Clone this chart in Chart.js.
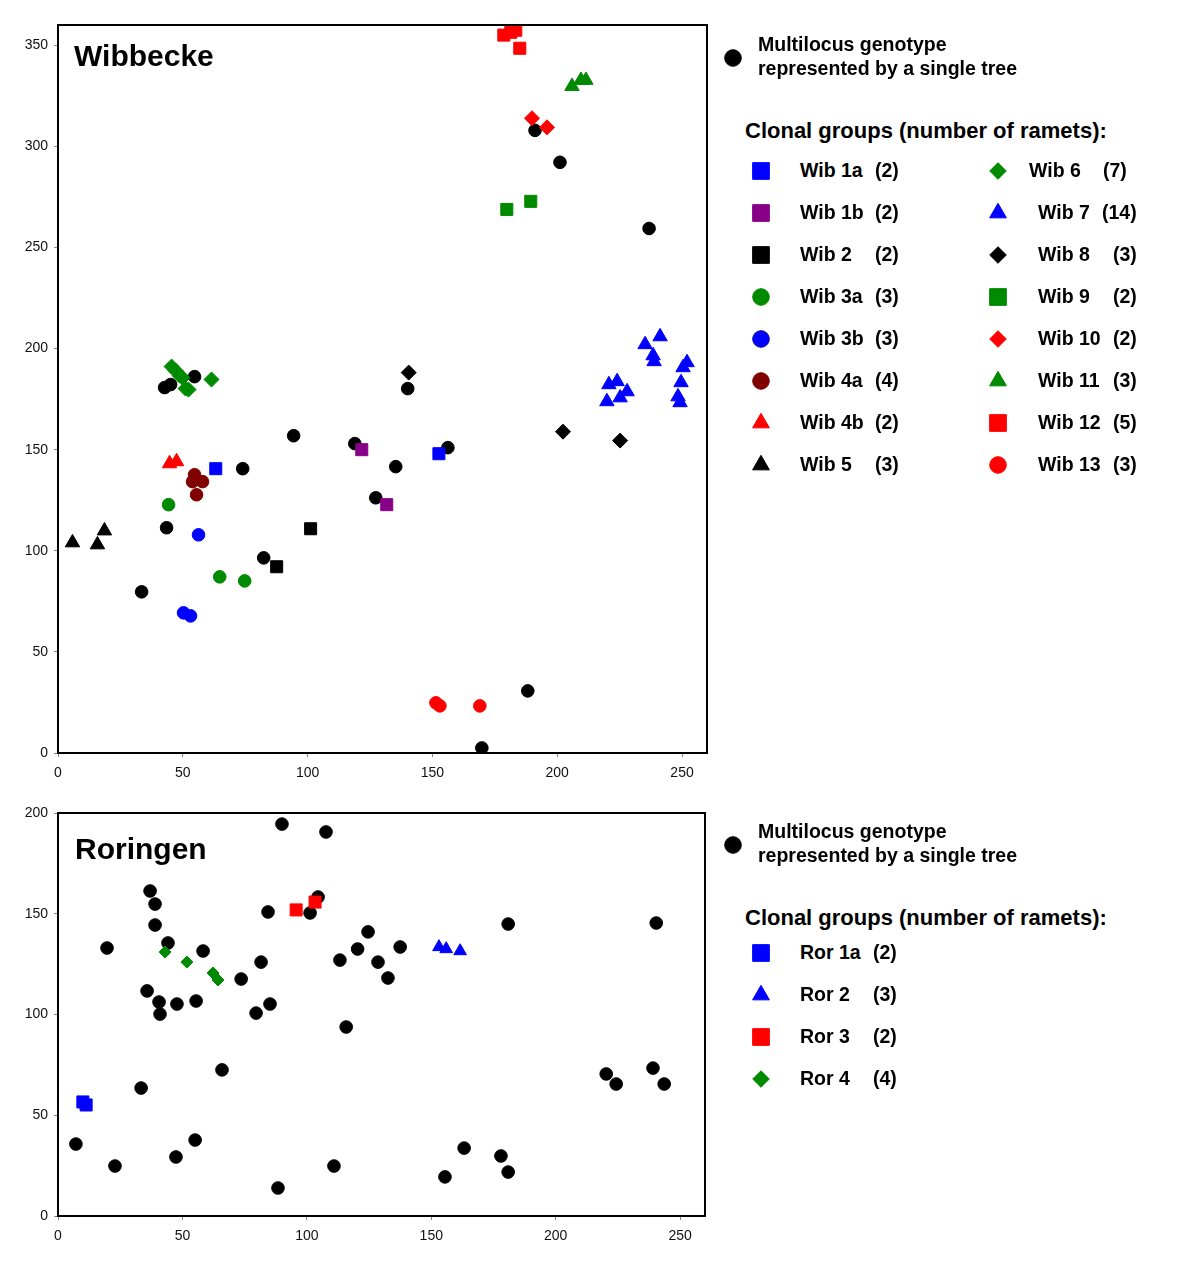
<!DOCTYPE html>
<html>
<head>
<meta charset="utf-8">
<script src="https://cdn.jsdelivr.net/npm/chart.js@4.4.1/dist/chart.umd.min.js"></script>
<style>
  body { margin: 0; background: #fff; }
  #page { position: relative; width: 1200px; height: 1275px; font-family: 'Liberation Sans', Arial, sans-serif; }
  canvas.plot { position: absolute; left: 0; }
  .txt { position: absolute; font-weight: bold; white-space: nowrap; line-height: 1; color: #000; }
  .mk { position: absolute; }
</style>
</head>
<body>
<div id="page">
  <canvas id="wibChart" class="plot" style="top:0px" width="720" height="790"></canvas>
  <canvas id="rorChart" class="plot" style="top:790px" width="720" height="460"></canvas>
</div>
<script>
// ---- Wibbecke (x, y positions in m) ----
const wibSingles = [[42.7,180.7],[45.1,182.2],[54.7,186.1],[94.4,156.9],[74.0,140.6],[118.9,153.0],
  [127.3,126.2],[135.3,141.6],[156.2,151.0],[140.1,180.2],[43.5,111.4],[82.4,96.5],[33.5,79.7],
  [188.2,30.7],[169.8,2.5],[191.1,307.9],[201.1,292.1],[236.8,259.4]];
const wib1a = [[63.2,140.6],[152.6,148.0]];
const wib1b = [[121.7,150.0],[131.7,122.8]];
const wib2 = [[101.2,110.9],[87.6,92.1]];
const wib3a = [[44.3,122.8],[64.8,87.1],[74.8,85.1]];
const wib3b = [[56.3,107.9],[50.3,69.3],[53.1,67.8]];
const wib4a = [[54.7,137.6],[53.9,134.2],[57.9,134.2],[55.5,127.7]];
const wib4b = [[44.7,143.1],[47.5,144.1]];
const wib5 = [[5.8,104.0],[15.8,103.0],[18.6,109.9]];
const wib6 = [[45.5,191.1],[47.1,189.1],[48.7,186.6],[49.9,185.6],[51.1,180.2],[52.3,179.7],[61.5,184.7]];
const wib7 = [[235.2,202.0],[241.2,205.9],[238.4,196.5],[238.8,193.6],[252.0,193.1],[250.4,190.6],
  [249.6,183.2],[248.4,176.2],[249.2,173.3],[220.7,182.2],[224.0,183.7],[228.0,178.7],[225.2,175.7],[219.9,173.8]];
const wib8 = [[140.5,188.1],[202.3,158.9],[225.2,154.5]];
const wib9 = [[179.8,268.8],[189.4,272.8]];
const wib10 = [[189.9,313.9],[195.9,309.4]];
const wib11 = [[205.9,329.7],[209.5,332.7],[211.5,332.7]];
const wib12 = [[178.6,355.0],[181.4,356.4],[183.4,357.4],[185.0,348.5],[182.2,359.4]];
const wib13 = [[151.4,24.8],[153.0,23.3],[169.0,23.3]];
const wibGroups = [wib1a, wib1b, wib2, wib3a, wib3b, wib4a, wib4b, wib5,
  wib6, wib7, wib8, wib9, wib10, wib11, wib12, wib13];
const wibNames = ['Wib 1a','Wib 1b','Wib 2','Wib 3a','Wib 3b','Wib 4a','Wib 4b','Wib 5',
  'Wib 6','Wib 7','Wib 8','Wib 9','Wib 10','Wib 11','Wib 12','Wib 13'];
const wibRamets = [2,2,2,3,3,4,2,3,7,14,3,2,2,3,5,3];
const wibYTicks = [0,50,100,150,200,250,300,350];

// ---- Roringen ----
const rorSingles = [[90,194.5],[107.7,190.6],[37,161.3],[39,154.8],[39,144.4],[19.7,133],[44.2,135.5],
  [58.3,131.5],[84.4,150.9],[101.3,150.4],[104.5,158.3],[81.6,126],[73.6,117.6],[35.8,111.7],[40.6,106.2],
  [47.8,105.2],[55.5,106.7],[41,100.2],[79.6,100.7],[85.2,105.2],[113.3,127],[115.8,93.8],[120.4,132.5],
  [65.9,72.5],[33.4,63.5],[7.2,35.7],[22.9,24.8],[47.4,29.3],[55.1,37.7],[88.4,13.9],[110.9,24.8],
  [124.6,141],[128.6,126],[132.6,118.1],[137.5,133.5],[180.9,144.9],[240.4,145.4],[220.3,70.5],
  [224.3,65.5],[239.1,73.4],[243.6,65.5],[163.2,33.7],[178,29.8],[180.9,21.8],[155.5,19.4]];
const ror1a = [[10.0,56.6],[11.3,55.1]];
const ror2 = [[153.1,133.5],[156.0,132.5],[161.6,131.5]];
const ror3 = [[95.7,151.9],[103.3,155.8]];
const ror4 = [[43.0,131.0],[51.8,126.0],[62.3,120.6],[64.3,117.1]];
const rorGroups = [ror1a, ror2, ror3, ror4];
const rorNames = ['Ror 1a','Ror 2','Ror 3','Ror 4'];
const rorRamets = [2,3,2,4];
const rorYTicks = [0,50,100,150,200];

const xTicks = [0,50,100,150,200,250];

// marker styles
const wibStyles = [
  ['rect','#0000ff'],['rect','#880088'],['rect','#000000'],['circle','#008a00'],
  ['circle','#0000ff'],['circle','#800000'],['triangle','#ff0000'],['triangle','#000000'],
  ['rectRot','#008a00'],['triangle','#0000ff'],['rectRot','#000000'],['rect','#008a00'],
  ['rectRot','#ff0000'],['triangle','#008a00'],['rect','#ff0000'],['circle','#ff0000']
];
const rorStyles = [['rect','#0000ff'],['triangle','#0000ff'],['rect','#ff0000'],['rectRot','#008a00']];

const plotRadius = {circle: 6.3, rect: 8.5, rectRot: 7.5, triangle: 8.3};
const plotRadiusSmall = {circle: 6.3, rect: 8.5, rectRot: 6, triangle: 7.3};
const legendRadius = {circle: 8.3, rect: 11.8, rectRot: 8.3, triangle: 9.7};
const FONT = "'Liberation Sans', Arial, sans-serif";

function toXY(arr) { return arr.map(p => ({x: p[0], y: p[1]})); }

function buildDatasets(groups, names, styles, singles, radii) {
  const ds = groups.map((g, i) => ({
    label: names[i],
    data: toXY(g),
    pointStyle: styles[i][0],
    pointRadius: radii[styles[i][0]],
    pointHoverRadius: radii[styles[i][0]],
    backgroundColor: styles[i][1],
    borderColor: styles[i][1],
    borderWidth: 1
  }));
  ds.push({
    label: 'Multilocus genotype',
    data: toXY(singles),
    pointStyle: 'circle',
    pointRadius: radii.circle,
    pointHoverRadius: radii.circle,
    backgroundColor: '#000',
    borderColor: '#000',
    borderWidth: 1
  });
  return ds;
}

const boxPlugin = {
  id: 'box',
  afterDraw(chart) {
    const a = chart.chartArea, ctx = chart.ctx;
    ctx.save();
    ctx.strokeStyle = '#000';
    ctx.lineWidth = 2;
    ctx.strokeRect(a.left, a.top, a.right - a.left, a.bottom - a.top);
    ctx.restore();
  }
};

function makePlot(id, datasets, yMax, yTicks, padTop, padRight, yWidth, xHeight) {
  return new Chart(document.getElementById(id), {
    type: 'scatter',
    data: { datasets: datasets },
    options: {
      responsive: false,
      animation: false,
      events: [],
      layout: { padding: { left: 0, top: padTop, right: padRight, bottom: 0 } },
      plugins: { legend: { display: false }, tooltip: { enabled: false } },
      scales: {
        x: {
          type: 'linear', min: 0, max: 260,
          afterBuildTicks: s => { s.ticks = xTicks.map(v => ({value: v})); },
          afterFit: s => { s.height = xHeight; },
          ticks: { font: { size: 14, family: FONT }, color: '#111', padding: 8 },
          grid: { drawOnChartArea: false, tickLength: 4, color: '#888' },
          border: { display: false }
        },
        y: {
          type: 'linear', min: 0, max: yMax,
          afterBuildTicks: s => { s.ticks = yTicks.map(v => ({value: v})); },
          afterFit: s => { s.width = yWidth; },
          ticks: { font: { size: 14, family: FONT }, color: '#111', padding: 6 },
          grid: { drawOnChartArea: false, tickLength: 4, color: '#888' },
          border: { display: false }
        }
      }
    },
    plugins: [boxPlugin]
  });
}

makePlot('wibChart', buildDatasets(wibGroups, wibNames, wibStyles, wibSingles, plotRadius),
  360, wibYTicks, 25, 13, 58, 37);
makePlot('rorChart', buildDatasets(rorGroups, rorNames, rorStyles, rorSingles, plotRadiusSmall),
  200, rorYTicks, 23, 15, 58, 34);

// ---- titles and legends ----
const page = document.getElementById('page');

function addText(str, x, cy, size) {
  const d = document.createElement('div');
  d.className = 'txt';
  d.textContent = str;
  d.style.left = x + 'px';
  d.style.top = (cy - size * 0.49) + 'px';
  d.style.fontSize = size + 'px';
  page.appendChild(d);
}

function addMarker(shape, color, cx, cy, border) {
  const c = document.createElement('canvas');
  c.width = 28; c.height = 28;
  c.className = 'mk';
  c.style.left = (cx - 14) + 'px';
  c.style.top = (cy - 14) + 'px';
  page.appendChild(c);
  const ctx = c.getContext('2d');
  ctx.fillStyle = color;
  ctx.strokeStyle = border || color;
  ctx.lineWidth = 1;
  Chart.helpers.drawPoint(ctx, { pointStyle: shape, radius: legendRadius[shape], borderWidth: 1, rotation: 0 }, 14, 14);
}

function addLegendHead(top) {
  addMarker('circle', '#000', 733, top + 13);
  addText('Multilocus genotype', 758, top, 19.5);
  addText('represented by a single tree', 758, top + 24, 19.5);
  addText('Clonal groups (number of ramets):', 745, top + 85.5, 22);
}

addText('Wibbecke', 74, 56, 30);
addText('Roringen', 75, 849, 30);

addLegendHead(45);
wibNames.forEach((name, i) => {
  const col = i < 8 ? 0 : 1;
  const cy = 171 + 42 * (i % 8);
  const st = wibStyles[i];
  if (col === 0) {
    addMarker(st[0], st[1], 761, cy, i === 4 ? '#000099' : null);
    addText(name, 800, cy, 19.5);
    addText('(' + wibRamets[i] + ')', 875, cy, 19.5);
  } else {
    addMarker(st[0], st[1], 998, cy);
    addText(name, i === 8 ? 1029 : 1038, cy, 19.5);
    addText('(' + wibRamets[i] + ')', i === 8 ? 1103 : (i === 9 ? 1102 : 1113), cy, 19.5);
  }
});

addLegendHead(832);
rorNames.forEach((name, i) => {
  const cy = 953 + 42 * i;
  addMarker(rorStyles[i][0], rorStyles[i][1], 761, cy);
  addText(name, 800, cy, 19.5);
  addText('(' + rorRamets[i] + ')', 873, cy, 19.5);
});
</script>
</body>
</html>
